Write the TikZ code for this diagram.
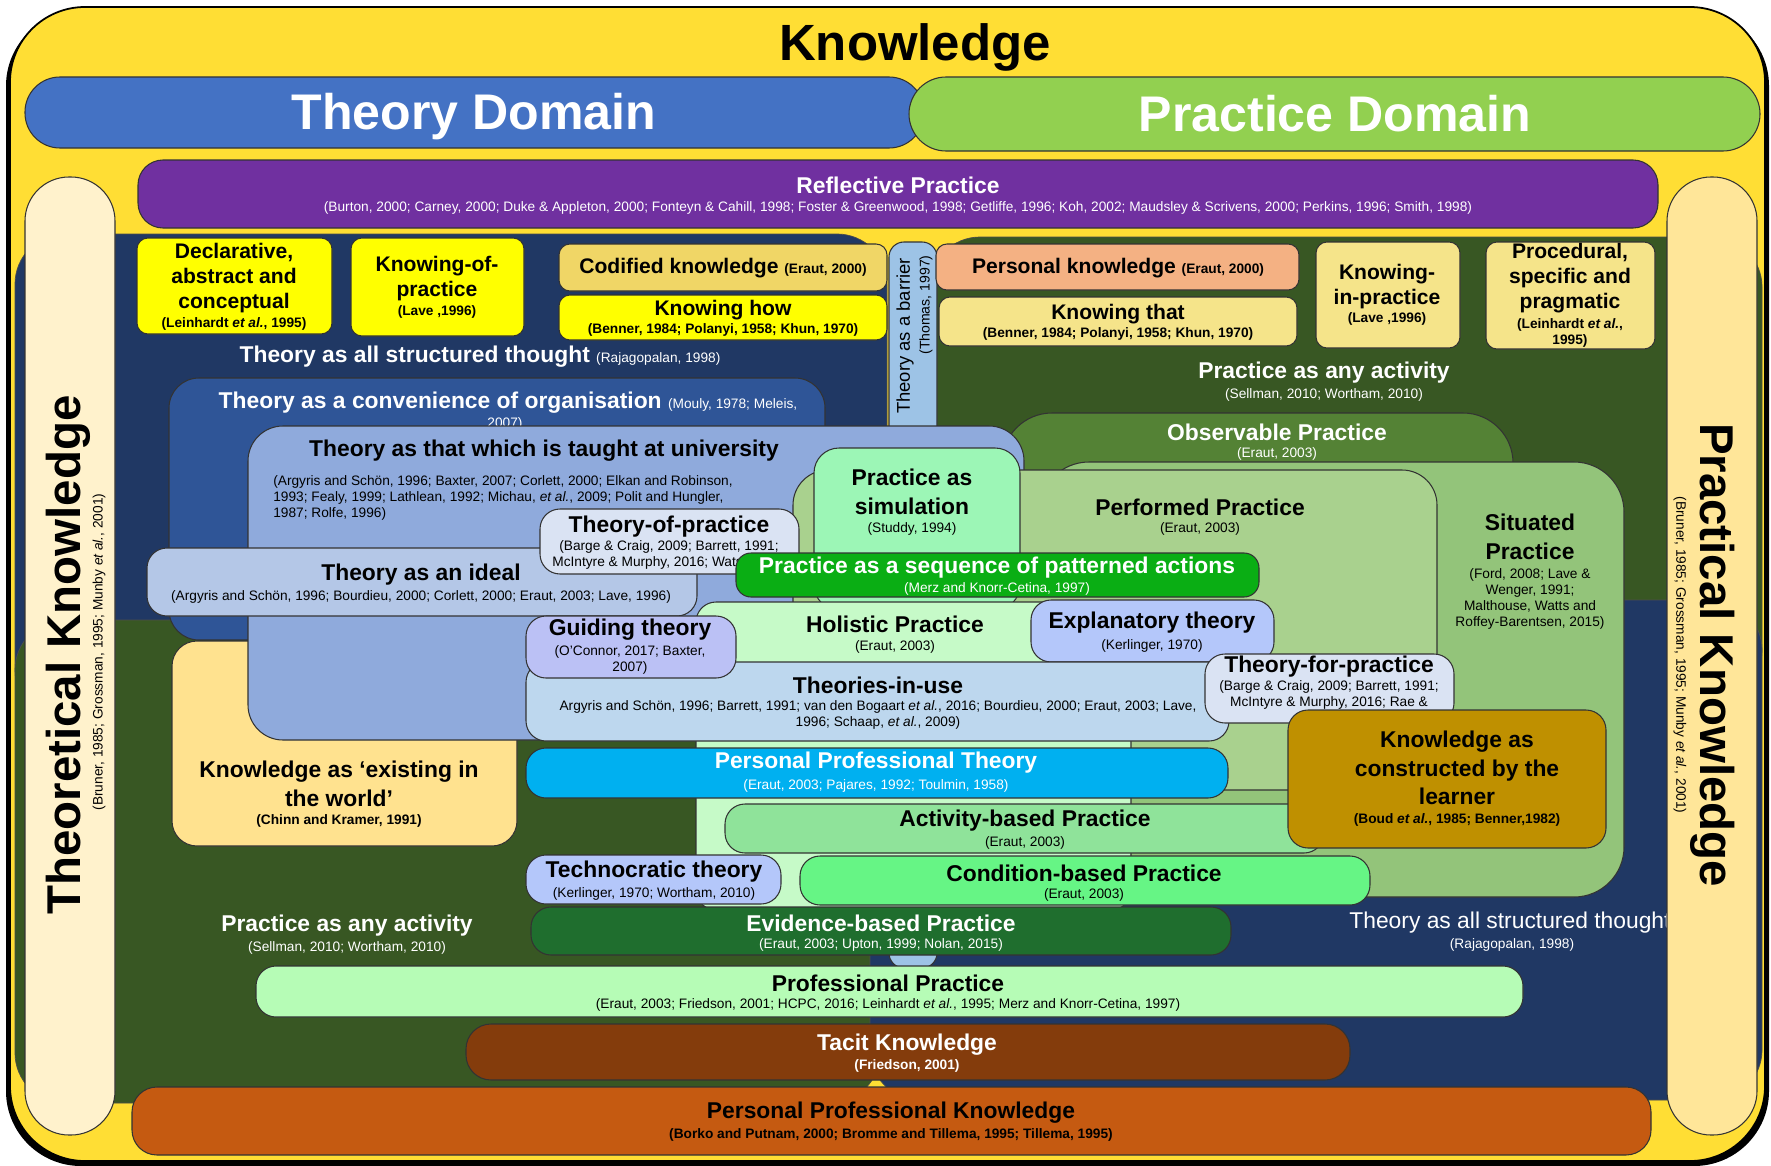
\documentclass[tikz,border=0pt]{standalone}
\usepackage{fontspec}
\setmainfont{Liberation Sans}

\definecolor{knowyellow}{RGB}{255,222,52}
\definecolor{theoryblue}{RGB}{68,114,196}
\definecolor{practicegreen}{RGB}{146,208,80}
\definecolor{reflpurple}{RGB}{112,48,160}
\definecolor{theocream}{RGB}{255,242,204}
\definecolor{praccream}{RGB}{255,230,153}
\definecolor{navy}{RGB}{32,56,100}
\definecolor{dkgreen}{RGB}{56,87,35}
\definecolor{brightyellow}{RGB}{255,255,0}
\definecolor{codified}{RGB}{240,214,102}
\definecolor{paleyellow}{RGB}{245,228,138}
\definecolor{salmon}{RGB}{244,177,131}
\definecolor{barrier}{RGB}{157,195,230}
\definecolor{convblue}{RGB}{47,85,151}
\definecolor{univblue}{RGB}{143,170,220}
\definecolor{idealblue}{RGB}{180,199,231}
\definecolor{tofpblue}{RGB}{218,227,243}
\definecolor{simgreen}{RGB}{156,246,182}
\definecolor{perfgreen}{RGB}{169,209,142}
\definecolor{sitgreen}{RGB}{147,196,122}
\definecolor{obsgreen}{RGB}{84,130,53}
\definecolor{patgreen}{RGB}{10,174,20}
\definecolor{holgreen}{RGB}{198,250,200}
\definecolor{explblue}{RGB}{180,199,250}
\definecolor{guidblue}{RGB}{187,193,245}
\definecolor{tiublue}{RGB}{189,215,238}
\definecolor{golden}{RGB}{191,144,0}
\definecolor{existyellow}{RGB}{255,226,143}
\definecolor{pptblue}{RGB}{0,176,240}
\definecolor{actgreen}{RGB}{143,227,154}
\definecolor{condgreen}{RGB}{102,245,133}
\definecolor{evidgreen}{RGB}{31,110,46}
\definecolor{profgreen}{RGB}{182,252,182}
\definecolor{tacitbrown}{RGB}{132,60,12}
\definecolor{ppkorange}{RGB}{197,90,17}

\newcommand{\srcin}[1]{{\fontsize{7.8}{9.4}\selectfont #1}}

\tikzset{
    box/.style={draw=black!80, line width=0.6pt, rounded corners=0.22cm},
    bigttl/.style={font=\fontsize{28.5}{34}\selectfont\bfseries, inner sep=0pt},
    ttl/.style={font=\fontsize{13}{16.2}\selectfont\bfseries, align=center, inner sep=0pt},
    ttlsm/.style={font=\fontsize{12}{14.2}\selectfont\bfseries, align=center, inner sep=0pt},
    src/.style={font=\fontsize{7.8}{9.2}\selectfont, align=center, inner sep=0pt},
    srcb/.style={font=\fontsize{7.8}{9.2}\selectfont\bfseries, align=center, inner sep=0pt},
}

\begin{document}
\begin{tikzpicture}[x=0.02cm, y=-0.02cm]
    \useasboundingbox (0,0) rectangle (1771,1166);
    % Knowledge frame with its shadow
    \fill[black, rounded corners=1.5cm] (6,11) rectangle (1769,1166);
    \draw[fill=knowyellow, line width=1pt, rounded corners=1.5cm] (10,7) rectangle (1765,1161);
    \node[bigttl, font=\fontsize{29}{34}\selectfont\bfseries] (know) at (915,47) {Knowledge};
    % Domains
    \draw[box, fill=theoryblue, rounded corners=0.7cm] (25,77) rectangle (924,148);
    \node[bigttl, text=white] (thdom) at (474,117) {Theory Domain};
    \draw[box, fill=practicegreen, rounded corners=0.74cm] (909,77) rectangle (1760,151);
    \node[bigttl, text=white] (prdom) at (1335,114) {Practice Domain};
    % Reflective practice
    \draw[box, fill=reflpurple, rounded corners=0.5cm] (138,160) rectangle (1658,228);
    \node[ttl, text=white] (refl) at (898,185) {Reflective Practice};
    \node[src, text=white] (refl-c) at (898,208) {(Burton, 2000; Carney, 2000; Duke \& Appleton, 2000; Fonteyn \& Cahill, 1998; Foster \& Greenwood, 1998; Getliffe, 1996; Koh, 2002; Maudsley \& Scrivens, 2000; Perkins, 1996; Smith, 1998)};

    % Theory and practice grounds
    \draw[fill=navy, draw=black!70, rounded corners=1cm] (15,234) rectangle (887,720);
    \draw[fill=dkgreen, draw=black!70, rounded corners=1cm] (930,237) rectangle (1762,700);
    \draw[fill=dkgreen, draw=black!70, rounded corners=1cm] (15,620) rectangle (880,1103);
    \draw[fill=navy, draw=black!70, rounded corners=1cm] (870,600) rectangle (1762,1100);
    \node[ttl, text=white] (struct) at (480,357) {Theory as all structured thought \srcin{\mdseries(Rajagopalan, 1998)}};
    \node[ttl, text=white] (anyact) at (1324,373) {Practice as any activity};
    \node[src, text=white] (anyact-c) at (1324,395) {(Sellman, 2010; Wortham, 2010)};
    \node[ttl, text=white] (anyact2) at (347,926) {Practice as any activity};
    \node[src, text=white] (anyact2-c) at (347,948) {(Sellman, 2010; Wortham, 2010)};
    \node[ttl, text=white, font=\fontsize{13}{16}\selectfont, anchor=west] (struct2) at (1349,923) {Theory as all structured thought};
    \node[src, text=white] (struct2-c) at (1512,945) {(Rajagopalan, 1998)};

    % Theoretical and practical knowledge
    \draw[box, fill=theocream, rounded corners=0.88cm] (25,177) rectangle (115,1135);
    \node[bigttl, font=\fontsize{27}{32}\selectfont\bfseries, rotate=90] (theok) at (68,655) {Theoretical Knowledge};
    \node[src, rotate=90] (theok-c) at (99,652) {(Bruner, 1985; Grossman, 1995; Munby \textit{et al.}, 2001)};
    \draw[box, fill=praccream, rounded corners=0.88cm] (1667,177) rectangle (1757,1135);
    \node[bigttl, font=\fontsize{27}{32}\selectfont\bfseries, rotate=-90] (prack) at (1713,655) {Practical Knowledge};
    \node[src, rotate=-90] (prack-c) at (1680,655) {(Bruner, 1985; Grossman, 1995; Munby \textit{et al.}, 2001)};

    % Theory as a barrier
    \draw[box, fill=barrier, rounded corners=0.3cm] (889,242) rectangle (937,968);
    \node[font=\fontsize{10.5}{12}\selectfont, rotate=90, inner sep=0pt] (barr) at (905,336) {Theory as a barrier};
    \node[font=\fontsize{8}{9}\selectfont, rotate=90, inner sep=0pt] (barr-c) at (926,305) {(Thomas, 1997)};

    % Top row
    \draw[box, fill=brightyellow] (137,238) rectangle (332,334);
    \node[ttlsm] (decl) at (234,278) {Declarative,\\abstract and\\conceptual};
    \node[srcb] (decl-c) at (234,324) {(Leinhardt \textit{et al.}, 1995)};
    \draw[box, fill=brightyellow] (351,238) rectangle (524,336);
    \node[ttlsm] (kop) at (437,279) {Knowing-of-\\practice};
    \node[srcb] (kop-c) at (437,312) {(Lave ,1996)};
    \draw[box, fill=codified] (559,244) rectangle (887,291);
    \node[ttlsm] (cod) at (723,268) {Codified knowledge \srcin{(Eraut, 2000)}};
    \draw[box, fill=brightyellow] (559,295) rectangle (887,340);
    \node[ttlsm] (khow) at (723,310) {Knowing how};
    \node[srcb] (khow-c) at (723,330) {(Benner, 1984; Polanyi, 1958; Khun, 1970)};
    \draw[box, fill=salmon] (936,244) rectangle (1299,290);
    \node[ttlsm] (pers) at (1118,268) {Personal knowledge \srcin{(Eraut, 2000)}};
    \draw[box, fill=paleyellow] (939,297) rectangle (1297,346);
    \node[ttlsm] (kthat) at (1118,314) {Knowing that};
    \node[srcb] (kthat-c) at (1118,334) {(Benner, 1984; Polanyi, 1958; Khun, 1970)};
    \draw[box, fill=paleyellow] (1316,242) rectangle (1460,348);
    \node[ttlsm] (kinp) at (1387,287) {Knowing-\\in-practice};
    \node[srcb] (kinp-c) at (1387,319) {(Lave ,1996)};
    \draw[box, fill=paleyellow] (1486,242) rectangle (1655,349);
    \node[ttlsm] (proc) at (1570,278) {Procedural,\\specific and\\pragmatic};
    \node[srcb] (proc-c) at (1570,333) {(Leinhardt \textit{et al.},\\1995)};

    % Convenience and observable
    \draw[box, fill=convblue, rounded corners=0.6cm] (169,378) rectangle (825,640);
    \node[ttl, text=white] (conv) at (508,403) {Theory as a convenience of organisation \srcin{\mdseries(Mouly, 1978; Meleis,}};
    \node[src, text=white] (conv-c) at (505,424) {2007)};
    \draw[box, fill=obsgreen, rounded corners=1cm] (1002,413) rectangle (1513,800);
    \node[ttl, text=white] (obs) at (1277,432) {Observable Practice};
    \node[src, text=white] (obs-c) at (1277,454) {(Eraut, 2003)};
    \draw[box, fill=sitgreen, rounded corners=1cm] (1039,462) rectangle (1624,897);
    \node[ttl] (sit) at (1530,537) {Situated\\Practice};
    \node[src] (sit-c) at (1530,599) {(Ford, 2008; Lave \&\\Wenger, 1991;\\Malthouse, Watts and\\Roffey-Barentsen, 2015)};
    \draw[box, fill=existyellow, rounded corners=0.5cm] (172,641) rectangle (517,846);
    \node[ttl] (exist) at (339,784) {Knowledge as ‘existing in\\the world’};
    \node[srcb] (exist-c) at (339,821) {(Chinn and Kramer, 1991)};

    % University and performed
    \draw[box, fill=univblue, rounded corners=0.7cm] (248,426) rectangle (1024,740);
    \node[ttl] (univ) at (544,451) {Theory as that which is taught at university};
    \node[src, align=left, anchor=west] (univ-c) at (273,498) {(Argyris and Schön, 1996; Baxter, 2007; Corlett, 2000; Elkan and Robinson,\\1993; Fealy, 1999; Lathlean, 1992; Michau, \textit{et al.}, 2009; Polit and Hungler,\\1987; Rolfe, 1996)};
    \draw[box, fill=perfgreen, rounded corners=0.7cm] (793,470) rectangle (1437,790);
    \node[ttl] (perf) at (1200,507) {Performed Practice};
    \node[src] (perf-c) at (1200,529) {(Eraut, 2003)};
    \draw[box, fill=simgreen, rounded corners=0.5cm] (814,448) rectangle (1020,610);
    \node[ttl] (sim) at (912,492) {Practice as\\simulation};
    \node[src] (sim-c) at (912,529) {(Studdy, 1994)};

    % Middle boxes
    \draw[box, fill=idealblue, rounded corners=0.4cm] (147,548) rectangle (697,616);
    \node[ttl] (ideal) at (421,575) {Theory as an ideal};
    \node[src] (ideal-c) at (421,597) {(Argyris and Schön, 1996; Bourdieu, 2000; Corlett, 2000; Eraut, 2003; Lave, 1996)};
    \draw[box, fill=tofpblue, rounded corners=0.4cm] (540,509) rectangle (799,574);
    \node[ttl] (tofp) at (669,527) {Theory-of-practice};
    \node[src] (tofp-c1) at (669,547) {(Barge \& Craig, 2009; Barrett, 1991;};
    \node[src, anchor=west] (tofp-c2) at (552,563) {McIntyre \& Murphy, 2016; Watson};
    \draw[box, fill=patgreen, rounded corners=0.3cm] (736,553) rectangle (1259,597);
    \node[ttl, text=white] (patt) at (997,568) {Practice as a sequence of patterned actions};
    \node[src, text=white] (patt-c) at (997,589) {(Merz and Knorr-Cetina, 1997)};
    \draw[box, fill=holgreen, rounded corners=0.4cm] (696,602) rectangle (1131,910);
    \node[ttl] (hol) at (895,624) {Holistic Practice};
    \node[src] (hol-c) at (895,647) {(Eraut, 2003)};
    \draw[box, fill=explblue, rounded corners=0.4cm] (1031,600) rectangle (1274,662);
    \node[ttl] (expl) at (1152,623) {Explanatory theory};
    \node[src] (expl-c) at (1152,646) {(Kerlinger, 1970)};
    \draw[box, fill=tiublue, rounded corners=0.4cm] (526,662) rectangle (1229,741);
    \node[ttl] (tiu) at (878,685) {Theories-in-use};
    \node[src] (tiu-c) at (878,715) {Argyris and Schön, 1996; Barrett, 1991; van den Bogaart \textit{et al.}, 2016; Bourdieu, 2000; Eraut, 2003; Lave,\\1996; Schaap, \textit{et al.}, 2009)};
    \draw[box, fill=guidblue, rounded corners=0.4cm] (526,616) rectangle (736,678);
    \node[ttl] (guid) at (630,630) {Guiding theory};
    \node[src] (guid-c) at (630,660) {(O’Connor, 2017; Baxter,\\2007)};
    \draw[box, fill=tofpblue, rounded corners=0.4cm] (1205,654) rectangle (1454,723);
    \node[ttl] (tforp) at (1329,667) {Theory-for-practice};
    \node[src] (tforp-c) at (1329,695) {(Barge \& Craig, 2009; Barrett, 1991;\\McIntyre \& Murphy, 2016; Rae \&};

    % Lower boxes
    \draw[box, fill=pptblue, rounded corners=0.4cm] (526,748) rectangle (1228,798);
    \node[ttl, text=white] (ppt) at (876,763) {Personal Professional Theory};
    \node[src, text=white] (ppt-c) at (876,786) {(Eraut, 2003; Pajares, 1992; Toulmin, 1958)};
    \draw[box, fill=actgreen, rounded corners=0.4cm] (725,804) rectangle (1324,853);
    \node[ttl] (act) at (1025,821) {Activity-based Practice};
    \node[src] (act-c) at (1025,843) {(Eraut, 2003)};
    \draw[box, fill=golden, rounded corners=0.4cm] (1288,710) rectangle (1606,848);
    \node[ttl] (constr) at (1457,768) {Knowledge as\\constructed by the\\learner};
    \node[srcb] (constr-c) at (1457,820) {(Boud \textit{et al.}, 1985; Benner,1982)};
    \draw[box, fill=explblue, rounded corners=0.4cm] (526,855) rectangle (781,904);
    \node[ttl] (tech) at (654,872) {Technocratic theory};
    \node[src] (tech-c) at (654,894) {(Kerlinger, 1970; Wortham, 2010)};
    \draw[box, fill=condgreen, rounded corners=0.4cm] (800,856) rectangle (1370,905);
    \node[ttl] (cond) at (1084,873) {Condition-based Practice};
    \node[src] (cond-c) at (1084,895) {(Eraut, 2003)};
    \draw[box, fill=evidgreen, rounded corners=0.4cm] (531,907) rectangle (1231,955);
    \node[ttl, text=white] (evid) at (881,923) {Evidence-based Practice};
    \node[src, text=white] (evid-c) at (881,945) {(Eraut, 2003; Upton, 1999; Nolan, 2015)};
    \draw[box, fill=profgreen, rounded corners=0.4cm] (256,966) rectangle (1523,1017);
    \node[ttl] (prof) at (888,983) {Professional Practice};
    \node[src] (prof-c) at (888,1005) {(Eraut, 2003; Friedson, 2001; HCPC, 2016; Leinhardt \textit{et al.}, 1995; Merz and Knorr-Cetina, 1997)};
    \draw[box, fill=tacitbrown, rounded corners=0.5cm] (466,1024) rectangle (1350,1080);
    \node[ttl, text=white] (tacit) at (907,1045) {Tacit Knowledge};
    \node[srcb, text=white] (tacit-c) at (907,1066) {(Friedson, 2001)};
    \draw[box, fill=ppkorange, rounded corners=0.5cm] (132,1087) rectangle (1651,1155);
    \node[ttl] (ppk) at (891,1113) {Personal Professional Knowledge};
    \node[srcb] (ppk-c) at (891,1135) {(Borko and Putnam, 2000; Bromme and Tillema, 1995; Tillema, 1995)};
\end{tikzpicture}
\end{document}
